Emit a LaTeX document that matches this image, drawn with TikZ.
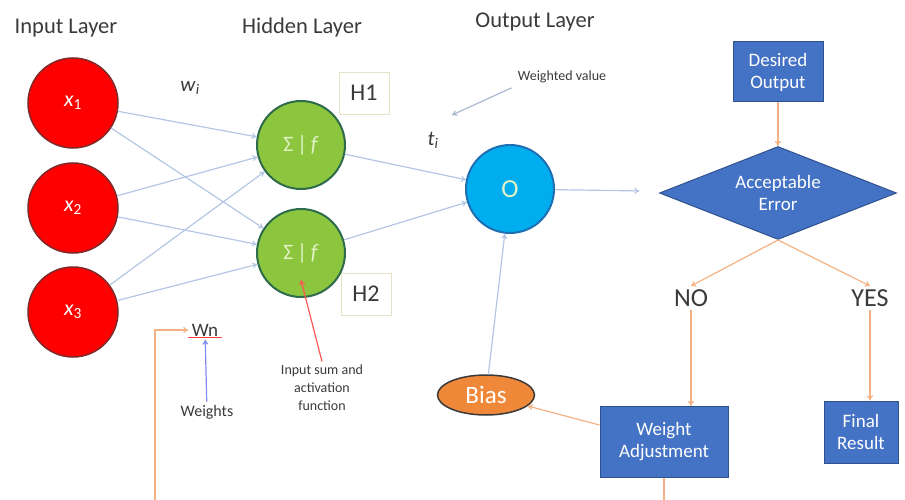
\documentclass[tikz,border=0pt]{standalone}
\usepackage{fontspec}
\setmainfont{Carlito}
\usetikzlibrary{arrows.meta,shapes.geometric}

\definecolor{inred}{HTML}{FF0000}
\definecolor{inredline}{HTML}{7E2A2A}
\definecolor{hidgreen}{HTML}{8CC63F}
\definecolor{hidline}{HTML}{2E6B4A}
\definecolor{outblue}{HTML}{00AEEF}
\definecolor{outline}{HTML}{1F6FB5}
\definecolor{boxblue}{HTML}{4472C4}
\definecolor{boxline}{HTML}{2F528F}
\definecolor{biasorange}{HTML}{F0883A}
\definecolor{netline}{HTML}{B4C6E4}
\definecolor{flowline}{HTML}{F4B183}
\definecolor{sumtext}{HTML}{E4F2C8}
\definecolor{labelgray}{HTML}{3A3A3A}
\definecolor{tagline}{HTML}{E6E2C8}

\begin{document}
\begin{tikzpicture}[x=1pt, y=-1pt, >={To[length=5pt,width=6pt]},
    inputnode/.style={circle, draw=inredline, line width=1.5pt, fill=inred, minimum size=90pt,
        inner sep=0pt, text=white, font=\fontsize{22}{24}\selectfont},
    hiddennode/.style={circle, draw=hidline, line width=2pt, fill=hidgreen, minimum size=88pt,
        inner sep=0pt, text=sumtext, font=\fontsize{22}{24}\selectfont},
    outputnode/.style={circle, draw=outline, line width=2pt, fill=outblue, minimum size=88pt,
        inner sep=0pt, text=sumtext, font=\fontsize{26}{28}\selectfont},
    tagbox/.style={draw=tagline, fill=white, minimum width=50pt, minimum height=42pt,
        text=labelgray, font=\fontsize{24}{26}\selectfont},
    flowbox/.style={rectangle, draw=boxline, line width=1pt, fill=boxblue, text=white,
        align=center, font=\fontsize{19}{22}\selectfont},
    layertitle/.style={text=labelgray, font=\fontsize{22.5}{26}\selectfont},
    answer/.style={text=labelgray, font=\fontsize{26}{28}\selectfont},
    note/.style={text=labelgray, align=center, font=\fontsize{14}{18}\selectfont},
    net/.style={->, netline, line width=1.2pt},
    flow/.style={->, flowline, line width=1.2pt},
]
    \useasboundingbox (0,0) rectangle (905,500);

    % layer titles
    \node[layertitle] (tin) at (66,28) {Input Layer};
    \node[layertitle] (thid) at (302,28) {Hidden Layer};
    \node[layertitle] (tout) at (535,22) {Output Layer};

    % input layer
    \foreach \i/\y in {1/103, 2/208, 3/312} {
        \node[inputnode] (x\i) at (73,\y) {\textit{x}\textsubscript{\i}};
    }

    % hidden layer
    \node[hiddennode] (h1) at (301,145) {Σ\,|\,\textit{f}};
    \node[hiddennode] (h2) at (301,253) {Σ\,|\,\textit{f}};
    \node[tagbox] (tag1) at (364,93) {H1};
    \node[tagbox] (tag2) at (366,294) {H2};

    % output layer
    \node[outputnode] (out) at (510,189) {O};
    \node[ellipse, draw=labelgray, line width=1.5pt, fill=biasorange, minimum width=97pt,
        minimum height=40pt, inner sep=0pt, text=white, font=\fontsize{25}{28}\selectfont]
        (bias) at (486,395) {Bias};

    % weights
    \foreach \i in {1,2,3} {
        \foreach \h in {1,2} {
            \draw[net] (x\i) -- (h\h);
        }
    }
    \draw[net] (h1) -- (out);
    \draw[net] (h2) -- (out);
    \draw[net] (bias) -- (out);

    \node[text=labelgray, font=\fontsize{21}{24}\selectfont] (wi) at (190,88) {\textit{w}\textsubscript{\textit{i}}};
    \node[text=labelgray, font=\fontsize{21}{24}\selectfont] (ti) at (433,140) {\textit{t}\textsubscript{\textit{i}}};

    % notes
    \node[note] (wv) at (562,77) {Weighted value};
    \coordinate (wvtip) at (452,115);
    \draw[->, netline!80!gray, line width=1.2pt, shorten <=3pt] (wv.south west) -- (wvtip);

    \node[note, font=\fontsize{19}{22}\selectfont] (wn) at (205,330) {Wn};
    \draw[red!75, line width=0.6pt] ([yshift=2pt]wn.south west) -- ([yshift=2pt]wn.south east);
    \node[note, font=\fontsize{16}{18}\selectfont] (wts) at (207,412) {Weights};
    \draw[->, netline!70!blue, line width=1.2pt] (wts) -- (wn);

    \node[note] (sumtxt) at (322,388) {Input sum and\\activation\\function};
    \draw[-{To[length=5pt,width=6pt]}, red!55!pink, line width=1.2pt]
        (sumtxt.north) -- ([yshift=18pt]h2.south);

    % error check
    \node[flowbox, minimum width=90pt, minimum height=60pt] (des) at (778,72) {Desired\\Output};
    \node[diamond, aspect=2.55, draw=boxline, line width=1pt, fill=boxblue, text=white, align=center,
        minimum width=237pt, minimum height=93pt, inner sep=0pt,
        font=\fontsize{19}{22}\selectfont] (acc) at (778,193) {Acceptable\\Error};
    \node[answer] (no) at (691,298) {NO};
    \node[answer] (yes) at (870,298) {YES};
    \node[flowbox, minimum width=128pt, minimum height=71pt] (wa) at (664,442) {Weight\\Adjustment};
    \node[flowbox, minimum width=74pt, minimum height=62pt] (fin) at (861,432) {Final\\Result};

    \draw[net, shorten >=24pt] (out) -- (acc);
    \draw[flow] (des) -- (acc);
    \draw[flow] (acc.south) -- (no.north);
    \draw[flow] (acc.south) -- (yes.north);
    \draw[flow] (no) -- (no |- wa.north);
    \draw[flow] (yes) -- (yes |- fin.north);
    \draw[flow] (wa) -- (bias);

    % feedback
    \coordinate (wabot) at (664,500);
    \coordinate (fbin) at (155,500);
    \draw[flowline, line width=1.2pt] (wa) -- (wabot);
    \draw[flow] (fbin) |- (wn);
\end{tikzpicture}
\end{document}
